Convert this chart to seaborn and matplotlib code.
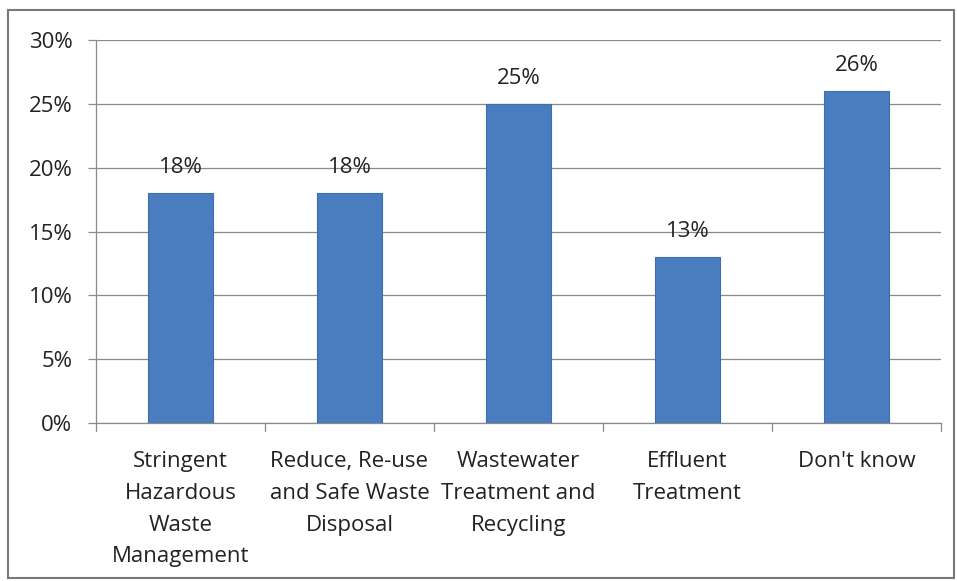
import matplotlib
matplotlib.use("Agg")
import matplotlib.pyplot as plt
import matplotlib.patches as mpatches
import seaborn as sns
import pandas as pd

categories = [
    "Stringent\nHazardous\nWaste\nManagement",
    "Reduce, Re-use\nand Safe Waste\nDisposal",
    "Wastewater\nTreatment and\nRecycling",
    "Effluent\nTreatment",
    "Don't know",
]
values = [18, 18, 25, 13, 26]
y_ticks = [0, 5, 10, 15, 20, 25, 30]

sns.set_theme(style="white")
plt.rcParams["font.family"] = ["Open Sans", "DejaVu Sans"]

df = pd.DataFrame({"category": categories, "value": values})

fig = plt.figure(figsize=(9.57, 5.81), dpi=100)
ax = fig.add_axes([96 / 957, 1 - 423 / 581, (941 - 96) / 957, (423 - 40) / 581])

sns.barplot(data=df, x="category", y="value", color="#4A7DC0", width=0.39,
            saturation=1, ax=ax, zorder=3, edgecolor="#3F6EAE", linewidth=0.8)

ax.set_ylim(0, 30)
ax.set_xlim(-0.5, len(categories) - 0.5)
ax.set_yticks(y_ticks)
ax.set_yticklabels([f"{t}%" for t in y_ticks], fontsize=16, color="#222222")
ax.yaxis.grid(True, color="#8a8a8a", linewidth=0.9, zorder=0)
ax.set_axisbelow(True)

ax.set_xticks(range(len(categories)))
ax.set_xticklabels(categories, fontsize=16, color="#222222", linespacing=1.68)
ax.tick_params(axis="x", length=0, pad=20)
ax.tick_params(axis="y", length=6, width=0.9, color="#8a8a8a", pad=11, left=True)

# category separators on the x axis
for b in [i - 0.5 for i in range(len(categories) + 1)]:
    ax.plot([b, b], [0, -0.02], transform=ax.get_xaxis_transform(),
            color="#8a8a8a", linewidth=0.9, clip_on=False)

for s in ["top", "right"]:
    ax.spines[s].set_visible(False)
for s in ["left", "bottom"]:
    ax.spines[s].set_color("#8a8a8a")
    ax.spines[s].set_linewidth(0.9)

ax.set_xlabel("")
ax.set_ylabel("")

for i, v in enumerate(values):
    ax.annotate(f"{v}%", (i, v), xytext=(0, 11), textcoords="offset points",
                ha="center", va="bottom", fontsize=16, color="#222222")

# outer frame of the chart area
fig.patches.append(mpatches.Rectangle((8 / 957, 3 / 581), 946 / 957, 568 / 581,
                                      transform=fig.transFigure, fill=False,
                                      edgecolor="#777777", linewidth=1.5))

fig.savefig("out.png", dpi=100)
